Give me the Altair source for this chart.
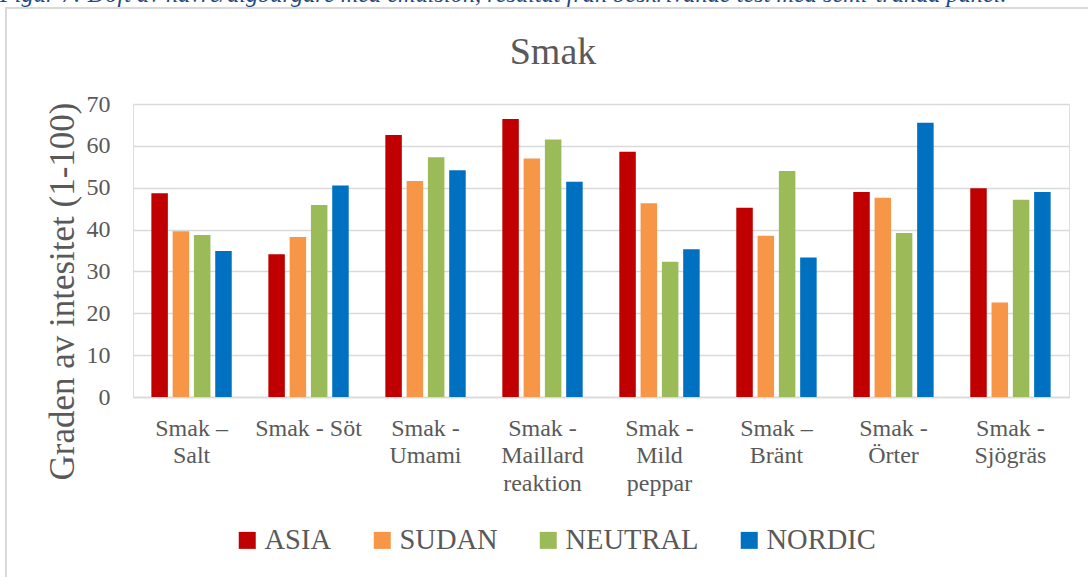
import altair as alt
import pandas as pd

# ---------------- data ----------------
categories = ["Smak – Salt", "Smak - Söt", "Smak - Umami", "Smak - Maillard reaktion",
              "Smak - Mild peppar", "Smak – Bränt", "Smak - Örter", "Smak - Sjögräs"]
label_lines = [["Smak –", "Salt"], ["Smak - Söt"], ["Smak -", "Umami"],
               ["Smak -", "Maillard", "reaktion"], ["Smak -", "Mild", "peppar"],
               ["Smak –", "Bränt"], ["Smak -", "Örter"], ["Smak -", "Sjögräs"]]
series = ["ASIA", "SUDAN", "NEUTRAL", "NORDIC"]
asia = [48.7, 34.1, 62.6, 66.4, 58.6, 45.2, 49.0, 49.9]
sudan = [39.6, 38.2, 51.6, 57.0, 46.3, 38.5, 47.6, 22.6]
neutral = [38.7, 45.9, 57.3, 61.5, 32.3, 54.0, 39.2, 47.1]
nordic = [34.9, 50.5, 54.2, 51.4, 35.3, 33.3, 65.5, 49.0]
colors = ["#C00000", "#F79646", "#9BBB59", "#0070C0"]
y_ticks = [0, 10, 20, 30, 40, 50, 60, 70]
chart_title = "Smak"
y_title = "Graden av intesitet (1-100)"
caption = "Figur 7: Doft av havre/algburgare med emulsion, resultat från beskrivande test med semi-tränad panel."

rows = []
for s, vals in zip(series, [asia, sudan, neutral, nordic]):
    for c, v in zip(categories, vals):
        rows.append({"category": c, "series": s, "value": v})
df = pd.DataFrame(rows)

FONT = "Liberation Serif"
GRAY = "#595959"
GRID = "#d9d9d9"

cat_js = "[" + ",".join("'" + c + "'" for c in categories) + "]"
lines_js = "[" + ",".join("[" + ",".join("'" + l + "'" for l in ls) + "]" for ls in label_lines) + "]"
label_expr = f"{lines_js}[indexof({cat_js}, datum.label)]"

bars = alt.Chart(df).mark_bar().encode(
    x=alt.X("category:N", sort=categories,
            scale=alt.Scale(paddingInner=0.313, paddingOuter=0.157),
            axis=alt.Axis(title=None, labelAngle=0, labelFont=FONT, labelFontSize=24,
                          labelColor=GRAY, labelPadding=19, labelLineHeight=27.5,
                          labelBaseline="top", ticks=False, domainColor=GRID,
                          domainWidth=1.5, labelLimit=300, labelExpr=label_expr)),
    xOffset=alt.XOffset("series:N", sort=series,
                        scale=alt.Scale(paddingInner=0.225, paddingOuter=0)),
    y=alt.Y("value:Q", scale=alt.Scale(domain=[0, 70], nice=False),
            axis=alt.Axis(values=y_ticks, title=y_title, titleFont=FONT, titleFontSize=35,
                          titleColor=GRAY, titleFontWeight="normal", titleX=-71, titleY=187,
                          titleAngle=270, titleBaseline="middle", titleAlign="center",
                          labelFont=FONT, labelFontSize=24, labelColor=GRAY, labelPadding=23,
                          grid=True, gridColor=GRID, gridWidth=1.5, domain=False, ticks=False)),
    color=alt.Color("series:N", sort=series,
                    scale=alt.Scale(domain=series, range=colors),
                    legend=alt.Legend(title=None, orient="none", legendX=100, legendY=422,
                                      direction="horizontal", symbolType="square",
                                      symbolSize=289, symbolStrokeWidth=0, labelFont=FONT,
                                      labelFontSize=28.5, labelColor=GRAY, columnPadding=36,
                                      labelOffset=3)),
)

frame = alt.Chart(pd.DataFrame({"a": [0]})).mark_rect(
    fillOpacity=0, stroke=GRID, strokeWidth=2
).encode(x=alt.value(-127), x2=alt.value(1000), y=alt.value(-96), y2=alt.value(520))

cap = alt.Chart(pd.DataFrame({"t": [caption]})).mark_text(
    align="left", baseline="alphabetic", font=FONT, fontSize=24.3, fontStyle="italic",
    color="#1F497D"
).encode(x=alt.value(-133), y=alt.value(-102), text="t:N")

ttl = alt.Chart(pd.DataFrame({"t": [chart_title]})).mark_text(
    align="center", baseline="alphabetic", font=FONT, fontSize=38, color=GRAY
).encode(x=alt.value(420), y=alt.value(-40), text="t:N")

chart = alt.layer(frame, bars, cap, ttl).properties(
    width=936, height=293,
    autosize=alt.AutoSizeParams(type="none"),
    padding={"left": 133, "top": 104, "right": 19, "bottom": 180},
).configure_view(stroke=None).configure(background="white")

chart.save("out.html", embed_options={"renderer": "svg", "actions": False})
